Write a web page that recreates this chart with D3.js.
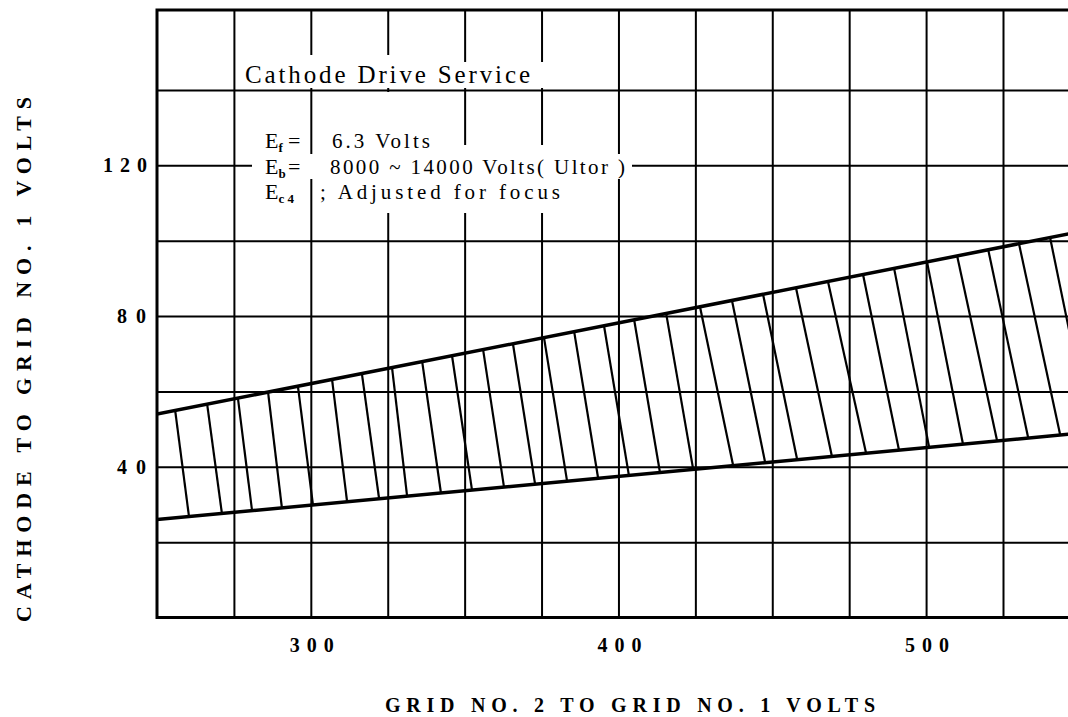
<!DOCTYPE html>
<html>
<head>
<meta charset="utf-8">
<script src="https://cdn.jsdelivr.net/npm/d3@7"></script>
<style>
  body { margin: 0; background: #fff; }
  svg { display: block; }
</style>
</head>
<body>
<div id="chart"></div>
<script>
const WIDTH = 1068;
const HEIGHT = 717;

// plot frame (pixels)
const LEFT = 157;
const RIGHT = 1003;   // x = 525, chart runs past the window edge
const TOP = 10;
const BOTTOM = 617.5;

// axis values
const xGridValues = [275, 300, 325, 350, 375, 400, 425, 450, 475, 500, 525];
const yGridValues = [20, 40, 60, 80, 100, 120, 140];
const xTickLabels = [300, 400, 500];
const yTickLabels = [40, 80, 120];

// boundaries of the operating region (x in volts, y in volts)
const boundaryX = [250, 550];
const upperY = [54.0, 102.4];
const lowerY = [26.0, 48.9];

// hatch lines: x where each line meets the upper and the lower boundary
const hatchTopX = [255.9, 266.3, 276.3, 286.1, 295.8, 306.9, 316.6, 326.4, 336.2, 345.9,
                   356.0, 365.7, 375.8, 385.6, 395.3, 405.1, 415.5, 426.5, 436.9, 447.0,
                   457.7, 468.1, 479.5, 489.6, 500.3, 510.1, 520.2, 530.2, 540.3];
const hatchBottomX = [260.4, 271.1, 280.9, 290.6, 300.7, 311.8, 322.2, 331.3, 342.3, 352.4,
                      362.8, 372.9, 383.3, 393.4, 403.4, 413.5, 424.3, 437.3, 447.7, 458.1,
                      469.4, 480.5, 491.2, 501.0, 512.0, 523.1, 533.2, 543.6, 553.3];

const xScale = d3.scaleLinear().domain([250, 525]).range([LEFT, RIGHT]);
const yScale = d3.scaleLinear().domain([0, 140]).range([BOTTOM, 90]);

const upper = d3.scaleLinear().domain(boundaryX).range(upperY);
const lower = d3.scaleLinear().domain(boundaryX).range(lowerY);

const svg = d3.select("#chart").append("svg")
    .attr("width", WIDTH)
    .attr("height", HEIGHT);

svg.append("rect")
    .attr("width", WIDTH)
    .attr("height", HEIGHT)
    .attr("fill", "#fff");

svg.append("clipPath").attr("id", "plot-clip")
  .append("rect")
    .attr("x", LEFT)
    .attr("y", TOP)
    .attr("width", WIDTH - LEFT + 20)
    .attr("height", BOTTOM - TOP);

const plot = svg.append("g").attr("clip-path", "url(#plot-clip)");

// grid, drawn with axes whose ticks span the plot
const plotH = BOTTOM - TOP;
plot.append("g")
    .attr("class", "grid")
    .attr("transform", "translate(0," + BOTTOM + ")")
    .call(d3.axisBottom(xScale).tickValues(xGridValues).tickSize(-plotH).tickFormat(""));
plot.append("g")
    .attr("class", "grid")
    .attr("transform", "translate(" + LEFT + ",0)")
    .call(d3.axisLeft(yScale).tickValues(yGridValues).tickSize(-(WIDTH - LEFT + 20)).tickFormat(""));
plot.selectAll(".grid .domain").remove();
plot.selectAll(".grid line")
    .attr("stroke", "#000")
    .attr("stroke-width", 2);

// hatching between the two boundaries
const hatch = hatchTopX.map((x, i) => ({ x0: x, x1: hatchBottomX[i] }));
plot.append("g").selectAll("line")
  .data(hatch)
  .join("line")
    .attr("x1", d => xScale(d.x0))
    .attr("y1", d => yScale(upper(d.x0)))
    .attr("x2", d => xScale(d.x1))
    .attr("y2", d => yScale(lower(d.x1)))
    .attr("stroke", "#000")
    .attr("stroke-width", 2.2);

// boundary lines
const line = d3.line().x(d => xScale(d[0])).y(d => yScale(d[1]));
[upperY, lowerY].forEach(ys => {
  plot.append("path")
      .attr("d", line(boundaryX.map((x, i) => [x, ys[i]])))
      .attr("fill", "none")
      .attr("stroke", "#000")
      .attr("stroke-width", 3.5);
});

// frame (right side is cut off by the window)
svg.append("path")
    .attr("d", "M" + (WIDTH + 5) + "," + TOP + "H" + LEFT + "V" + BOTTOM + "H" + (WIDTH + 5))
    .attr("fill", "none")
    .attr("stroke", "#000")
    .attr("stroke-width", 3);

// tick labels
const tickFont = "'Liberation Serif', serif";
svg.append("g").selectAll("text")
  .data(xTickLabels)
  .join("text")
    .attr("x", d => xScale(d) - 21)
    .attr("y", 652)
    .attr("textLength", 44)
    .attr("lengthAdjust", "spacing")
    .style("font-family", tickFont)
    .style("font-weight", "bold")
    .style("font-size", "20px")
    .text(d => d);
svg.append("g").selectAll("text")
  .data(yTickLabels)
  .join("text")
    .attr("x", d => String(d).length === 3 ? 103 : 117)
    .attr("y", d => yScale(d) + 7)
    .attr("textLength", d => String(d).length === 3 ? 44 : 29)
    .attr("lengthAdjust", "spacing")
    .style("font-family", tickFont)
    .style("font-weight", "bold")
    .style("font-size", "20px")
    .text(d => d);

// axis titles
svg.append("text")
    .attr("x", 385)
    .attr("y", 712)
    .attr("textLength", 490)
    .attr("lengthAdjust", "spacing")
    .style("font-family", tickFont)
    .style("font-weight", "bold")
    .style("font-size", "20px")
    .text("GRID NO. 2 TO GRID NO. 1 VOLTS");
svg.append("text")
    .attr("transform", "translate(31,622) rotate(-90)")
    .attr("textLength", 525)
    .attr("lengthAdjust", "spacing")
    .style("font-family", tickFont)
    .style("font-weight", "bold")
    .style("font-size", "22px")
    .text("CATHODE TO GRID NO. 1 VOLTS");

// annotation block, white boxes hide the grid behind the text
const note = svg.append("g").style("font-family", "'Liberation Serif', serif");
[[240, 55, 165, 33], [405, 62, 140, 26], [318, 92, 82, 121], [318, 145, 230, 68], [252, 154, 380, 25]].forEach(r => {
  note.append("rect")
      .attr("x", r[0]).attr("y", r[1])
      .attr("width", r[2]).attr("height", r[3])
      .attr("fill", "#fff");
});

note.append("text")
    .attr("x", 245).attr("y", 83)
    .attr("textLength", 285)
    .attr("lengthAdjust", "spacing")
    .style("font-size", "25px")
    .text("Cathode Drive Service");

const eLines = [
  { y: 148, sub: "f", eq: "=", rest: "6.3 Volts", x: 332, len: 98 },
  { y: 174, sub: "b", eq: "=", rest: "8000 ~ 14000 Volts( Ultor )", x: 330, len: 295 },
  { y: 199, sub: "c 4", eq: "", rest: "; Adjusted for focus", x: 320, len: 240 }
];
eLines.forEach(d => {
  const t = note.append("text")
      .attr("x", 265).attr("y", d.y)
      .style("font-size", "22px");
  t.append("tspan").text("E");
  t.append("tspan").attr("dy", 4).style("font-size", "13px").style("font-weight", "bold").text(d.sub);
  note.append("text")
      .attr("x", 288).attr("y", d.y)
      .style("font-size", "22px")
      .text(d.eq);
  note.append("text")
      .attr("x", d.x).attr("y", d.y)
      .attr("textLength", d.len)
      .attr("lengthAdjust", "spacing")
      .style("font-size", "21px")
      .text(d.rest);
});
</script>
</body>
</html>
